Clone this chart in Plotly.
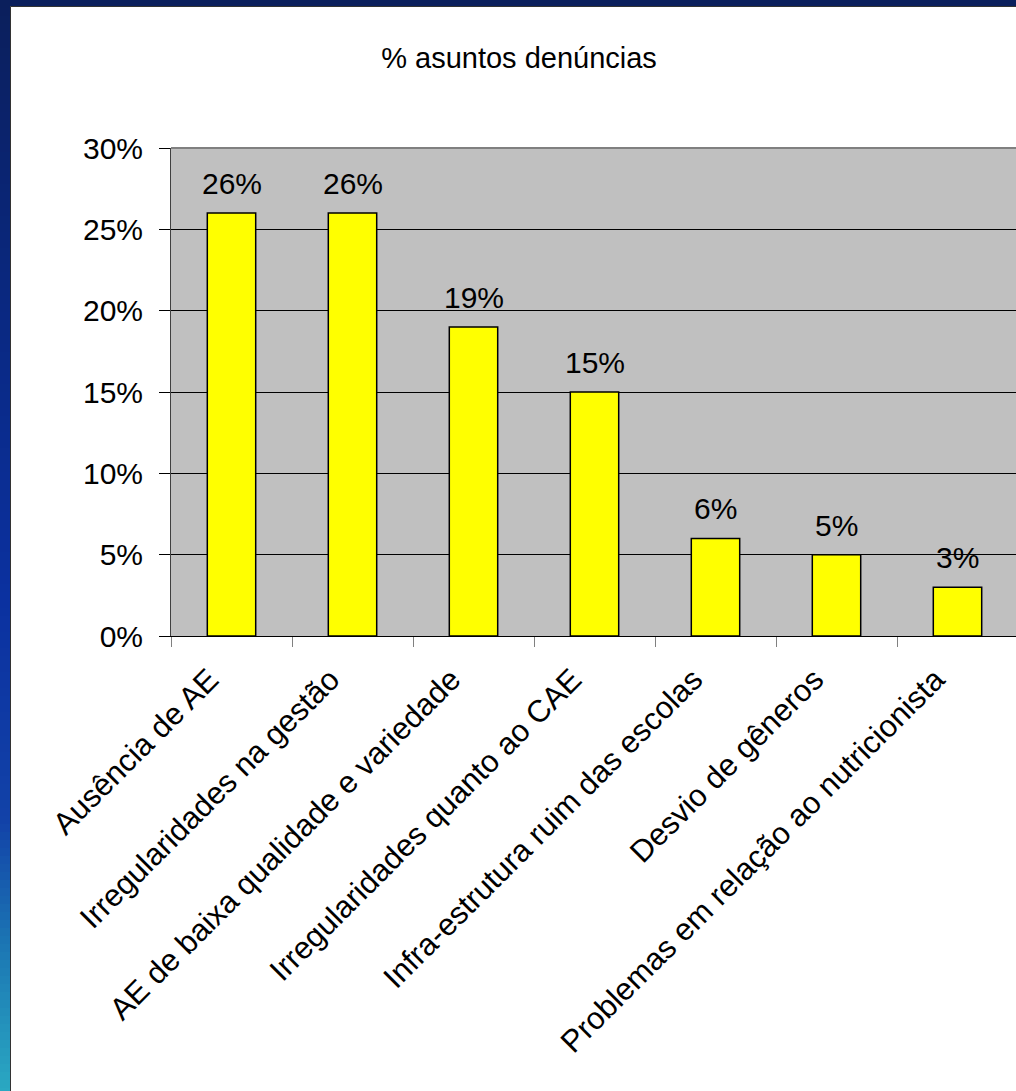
import plotly.graph_objects as go

categories = [
    "Ausência de AE",
    "Irregularidades na gestão",
    "AE de baixa qualidade e variedade",
    "Irregularidades quanto ao CAE",
    "Infra-estrutura ruim das escolas",
    "Desvio de gêneros",
    "Problemas em relação ao nutricionista",
]
values = [26, 26, 19, 15, 6, 5, 3]
y_ticks = [0, 5, 10, 15, 20, 25, 30]
title_text = "% asuntos denúncias"

W, H = 1016, 1091
ML, MT, MB, MR = 171, 148, 455, 0
FONT = "Liberation Sans, Arial, sans-serif"

fig = go.Figure()
fig.add_trace(go.Bar(
    x=categories, y=values, width=0.4,
    marker=dict(color="#FFFF00", line=dict(color="#000000", width=1.5)),
    hoverinfo="x+y",
))

for c, v in zip(categories, values):
    fig.add_annotation(x=c, y=v, text=f"{v}%", showarrow=False, yanchor="bottom",
                       yshift=11, font=dict(family=FONT, size=30, color="#000"))

pw = W - ML - MR
ph = H - MT - MB

def px2paper_x(px):
    return (px - ML) / pw

def px2paper_y(py):
    return (H - MB - py) / ph

shapes = []
# gray plot background
shapes.append(dict(type="rect", xref="paper", yref="paper", x0=0, x1=1, y0=0, y1=1,
                   fillcolor="#C0C0C0", line=dict(width=0), layer="below"))
# top border of plot area
shapes.append(dict(type="line", xref="paper", yref="paper", x0=0, x1=1, y0=1, y1=1,
                   line=dict(color="#808080", width=2), layer="above"))
# blue frame: top strip
shapes.append(dict(type="rect", xref="paper", yref="paper",
                   x0=px2paper_x(-5), x1=px2paper_x(W + 5), y0=px2paper_y(6.5), y1=px2paper_y(-5),
                   fillcolor="#0B1F5C", line=dict(width=0), layer="above"))
# left strip gradient (stepped)
stops = [(0, (11, 31, 92)), (300, (10, 40, 128)), (600, (11, 49, 160)), (820, (18, 66, 168)),
         (950, (28, 120, 180)), (1091, (42, 168, 194))]
def col_at(y):
    for (y0, c0), (y1, c1) in zip(stops[:-1], stops[1:]):
        if y0 <= y <= y1:
            t = (y - y0) / (y1 - y0)
            return "rgb(%d,%d,%d)" % tuple(round(a + (b - a) * t) for a, b in zip(c0, c1))
    return "rgb(%d,%d,%d)" % stops[-1][1]
step = 8
for y in range(0, H, step):
    y_top = max(y, 6)
    shapes.append(dict(type="rect", xref="paper", yref="paper",
                       x0=px2paper_x(-5), x1=px2paper_x(10),
                       y0=px2paper_y(min(y + step + 1, H + 2)), y1=px2paper_y(y_top),
                       fillcolor=col_at(y + step / 2), line=dict(width=0), layer="above"))
# thin dark border of white panel
shapes.append(dict(type="line", xref="paper", yref="paper",
                   x0=px2paper_x(10.5), x1=px2paper_x(10.5), y0=px2paper_y(6.5), y1=px2paper_y(H + 2),
                   line=dict(color="#333333", width=1), layer="above"))
shapes.append(dict(type="line", xref="paper", yref="paper",
                   x0=px2paper_x(10.5), x1=px2paper_x(W + 2), y0=px2paper_y(6.5), y1=px2paper_y(6.5),
                   line=dict(color="#333333", width=1), layer="above"))

fig.update_layout(
    width=W, height=H,
    margin=dict(l=ML, r=MR, t=MT, b=MB, pad=0),
    paper_bgcolor="#FFFFFF",
    plot_bgcolor="rgba(0,0,0,0)",
    showlegend=False,
    bargap=0.6,
    font=dict(family=FONT, size=30, color="#000"),
    title=dict(text=title_text, x=519 / W, xanchor="center", xref="container",
               y=1 - 58 / H, yanchor="middle", yref="container",
               font=dict(family=FONT, size=29, color="#000")),
    shapes=shapes,
    xaxis=dict(
        type="category", categoryorder="array", categoryarray=categories,
        range=[-0.5, 6.5 - 2 / 121],
        tickangle=-45, tickson="boundaries", ticks="outside", ticklen=10,
        tickcolor="#808080", tickwidth=1,
        showline=True, linecolor="#000000", linewidth=1,
        showgrid=False, tickfont=dict(family=FONT, size=31, color="#000"),
        ticklabelshift=-22, ticklabelstandoff=12,
        fixedrange=True,
    ),
    yaxis=dict(
        range=[0, 30], tickvals=y_ticks, ticktext=[f"{v}%" for v in y_ticks],
        ticks="outside", ticklen=11, tickcolor="#000000", tickwidth=1,
        showline=True, linecolor="#404040", linewidth=1,
        showgrid=True, gridcolor="#000000", gridwidth=1,
        zeroline=False, ticklabelstandoff=10,
        tickfont=dict(family=FONT, size=30, color="#000"),
        fixedrange=True,
    ),
)

fig.write_html("out.html", config={"displayModeBar": False},
               post_script="document.body.style.margin='0';document.body.style.overflow='hidden';")
